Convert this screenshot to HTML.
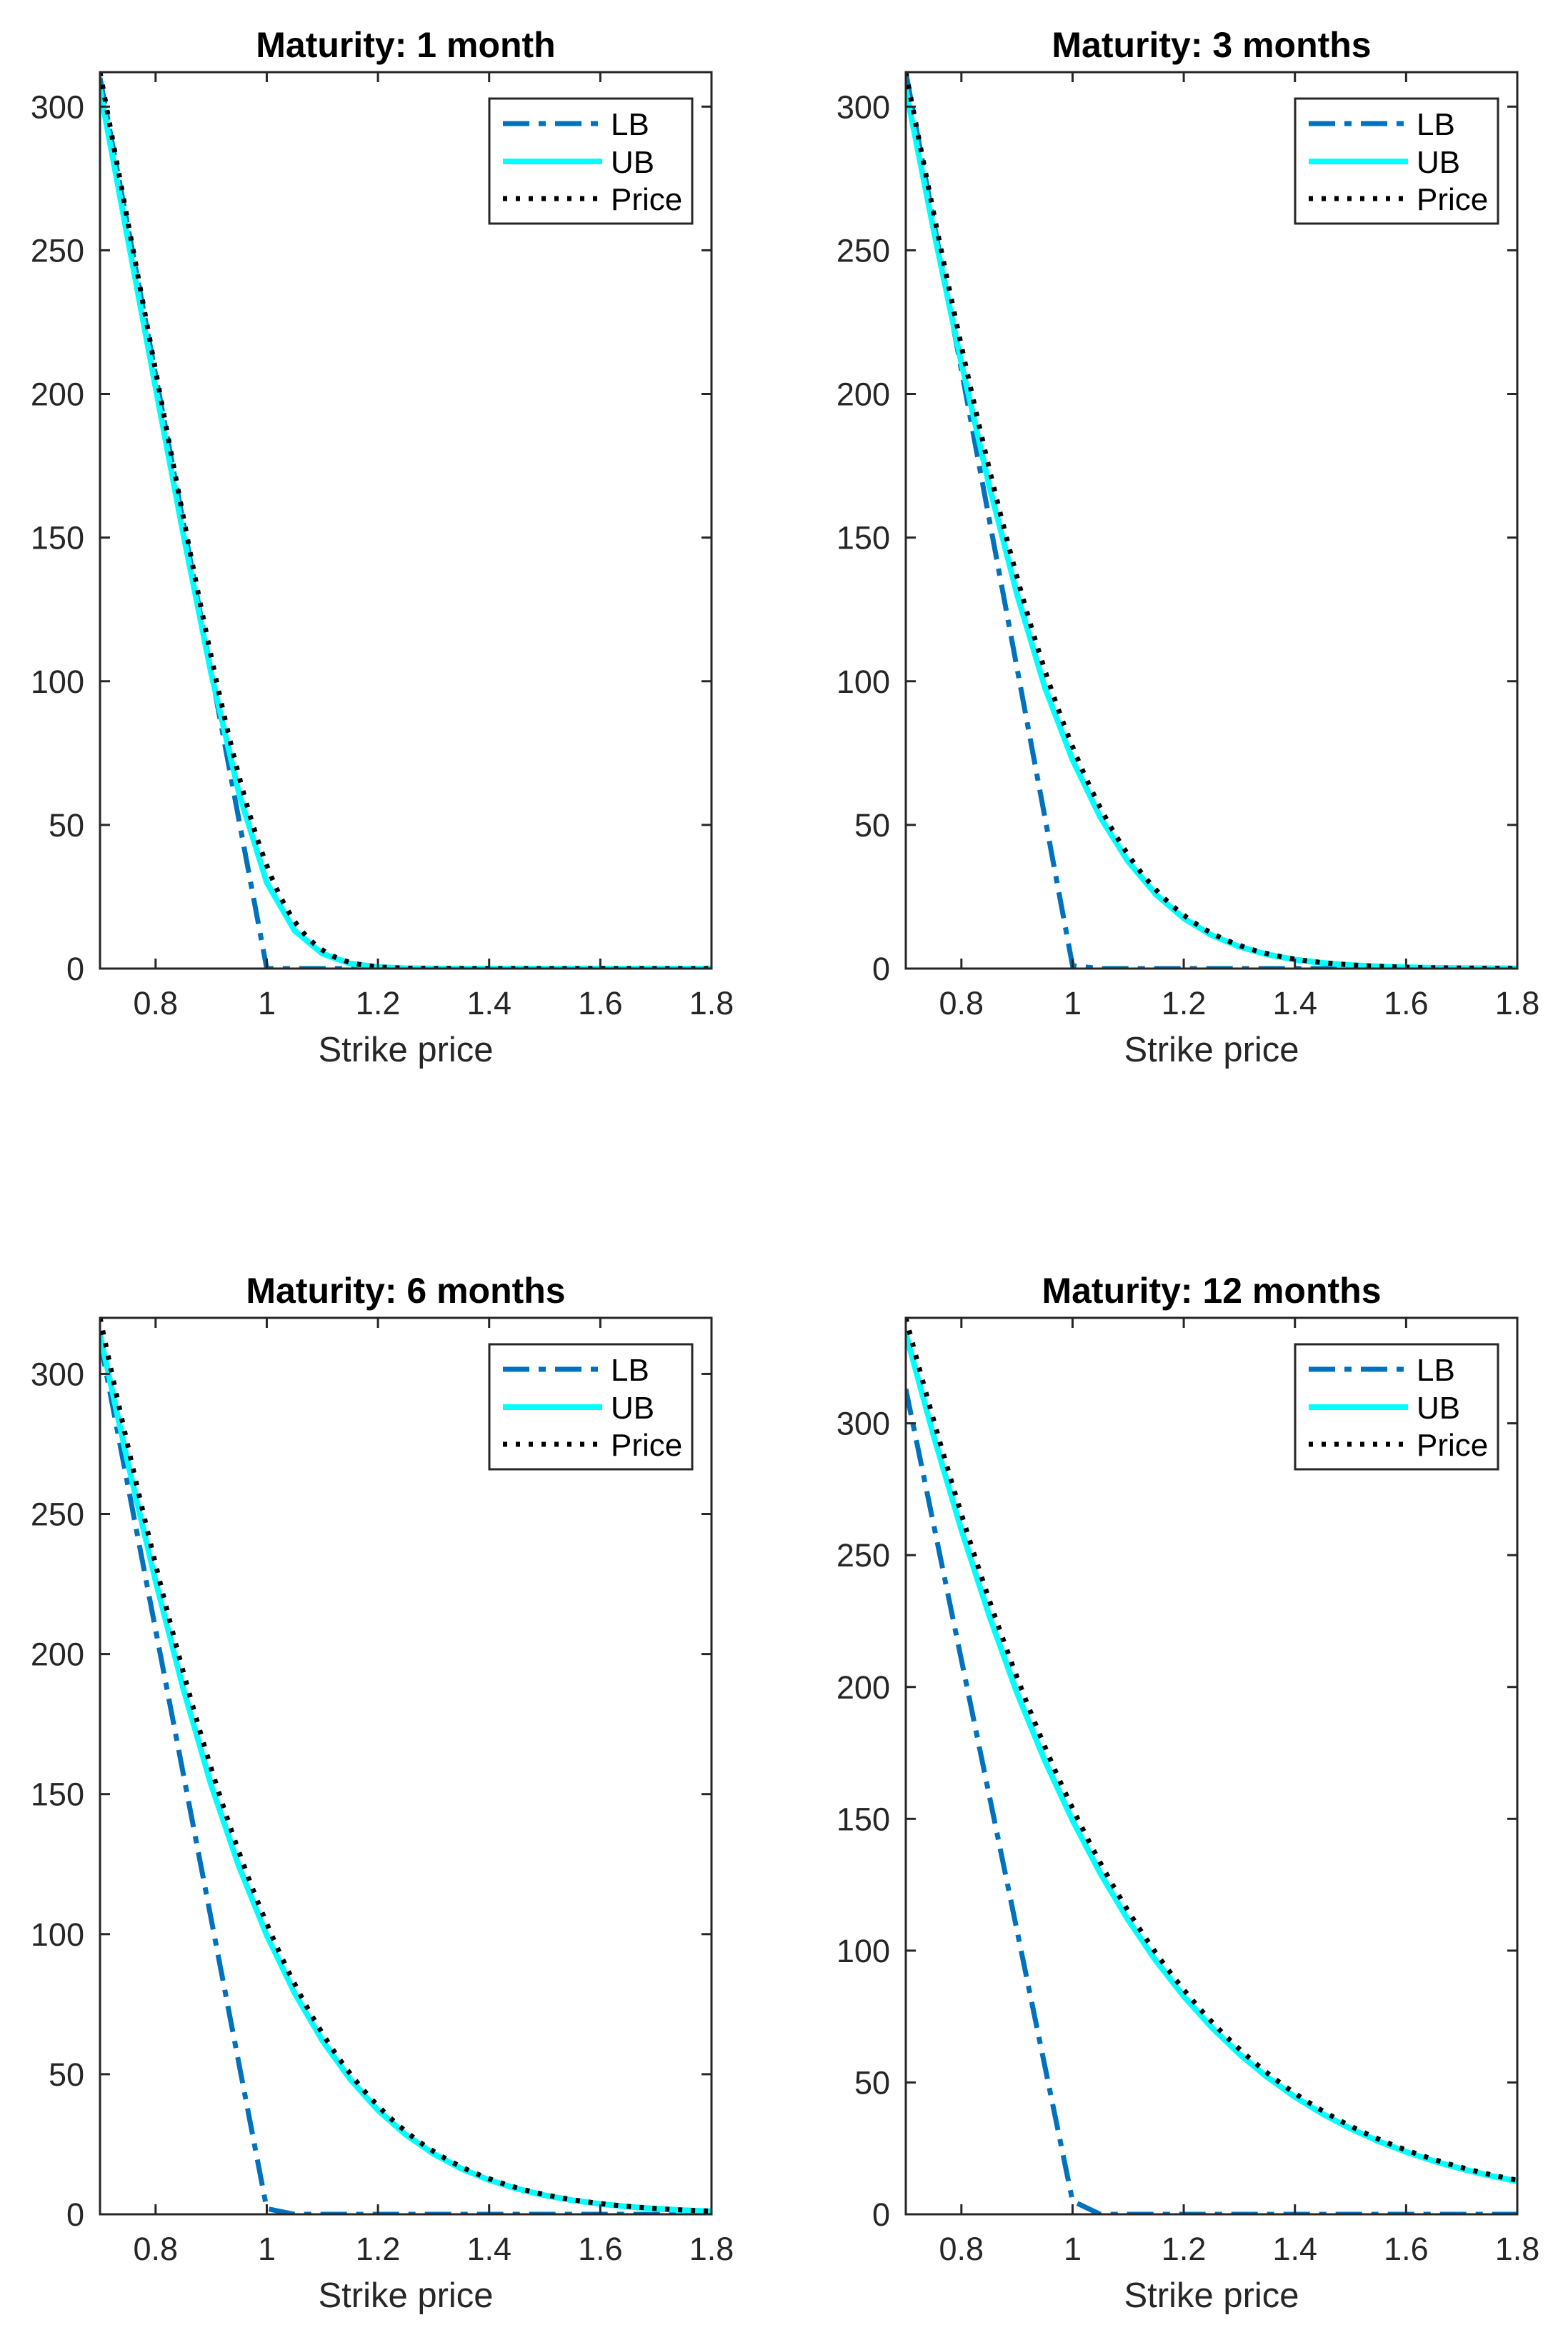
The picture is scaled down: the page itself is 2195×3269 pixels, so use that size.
<!DOCTYPE html>
<html><head><meta charset="utf-8"><style>
html,body{margin:0;padding:0;background:#fff}
svg{display:block}
text{font-family:"Liberation Sans",Arial,sans-serif;fill:#262626}
</style></head><body>
<svg id="s" width="2195" height="3269" viewBox="0 0 2195 3269" xmlns="http://www.w3.org/2000/svg"></svg>
<script>
const NS="http://www.w3.org/2000/svg";
const svg=document.getElementById('s');
function el(t,a,txt){const e=document.createElementNS(NS,t);for(const k in a)e.setAttribute(k,a[k]);if(txt!==undefined)e.textContent=txt;svg.appendChild(e);return e;}
function ncdf(x){const t=1/(1+0.2316419*Math.abs(x));const d=0.3989423*Math.exp(-x*x/2);let p=d*t*(0.3193815+t*(-0.3565638+t*(1.781478+t*(-1.821256+t*1.330274))));return x>0?1-p:p;}
function bs(K,s,T){const v=s*Math.sqrt(T);const d1=(Math.log(1/K)+v*v/2)/v;return ncdf(d1)-K*ncdf(d1-v);}
const panels=[
 {x0:140,y0:101,title:"Maturity: 1 month",ymax:312,s:0.30,T:1/12,L0:310,e:0,ubf:0.2},
 {x0:1268,y0:101,title:"Maturity: 3 months",ymax:312,s:0.375,T:0.25,L0:312,e:1,ubf:0.06},
 {x0:140,y0:1845,title:"Maturity: 6 months",ymax:320,s:0.354,T:0.5,L0:312,e:2,ubf:0.04},
 {x0:1268,y0:1845,title:"Maturity: 12 months",ymax:340,s:0.375,T:1,L0:313,e:5,ubf:0.03}];
const W=856,H=1255;
panels.forEach(p=>{
 const X=k=>p.x0+(k-0.7)/1.1*W, Y=v=>p.y0+H-v/p.ymax*H;
 const sc=p.ymax/bs(0.7,p.s,p.T);
 const price=k=>bs(k,p.s,p.T)*sc;
 const cp='c'+p.x0+'_'+p.y0;
 const d=el('defs',{});const c=document.createElementNS(NS,'clipPath');c.setAttribute('id',cp);const r=document.createElementNS(NS,'rect');
 r.setAttribute('x',p.x0);r.setAttribute('y',p.y0-4);r.setAttribute('width',W+4);r.setAttribute('height',H+4);c.appendChild(r);d.appendChild(c);
 let pts=[[0.7,p.L0],[1.0,p.e],[1.05,0],[1.8,0]];
 el('polyline',{points:pts.map(q=>X(q[0])+','+Y(q[1])).join(' '),fill:'none',stroke:'#0072BD','stroke-width':7,'stroke-dasharray':'37 13 10 13','clip-path':`url(#${cp})`});
 pts=[];for(let i=0;i<=22;i++){const k=0.7+i*0.05;let v=price(k);v=v-Math.min(v*p.ubf,6);pts.push(X(k)+','+Y(Math.max(v,0)));}
 el('polyline',{points:pts.join(' '),fill:'none',stroke:'#00FFFF','stroke-width':8,'clip-path':`url(#${cp})`});
 pts=[];for(let i=0;i<=220;i++){const k=0.7+i*0.005;pts.push(X(k)+','+Y(price(k)));}
 el('polyline',{points:pts.join(' '),fill:'none',stroke:'#000','stroke-width':7,'stroke-dasharray':'6 12','clip-path':`url(#${cp})`});
 el('rect',{x:p.x0,y:p.y0,width:W,height:H,fill:'none',stroke:'#262626','stroke-width':3});
 for(let k=0.8;k<1.81;k+=0.2){const x=X(k);
  el('line',{x1:x,y1:p.y0+H,x2:x,y2:p.y0+H-14,stroke:'#262626','stroke-width':3});
  el('line',{x1:x,y1:p.y0,x2:x,y2:p.y0+14,stroke:'#262626','stroke-width':3});
  const lab=(Math.abs(k-1)<1e-6)?'1':k.toFixed(1);
  el('text',{x:x,y:p.y0+H+64,'font-size':45,'text-anchor':'middle'},lab);}
 for(let v=0;v<=p.ymax;v+=50){const y=Y(v);
  el('line',{x1:p.x0,y1:y,x2:p.x0+14,y2:y,stroke:'#262626','stroke-width':3});
  el('line',{x1:p.x0+W,y1:y,x2:p.x0+W-14,y2:y,stroke:'#262626','stroke-width':3});
  el('text',{x:p.x0-22,y:y+16,'font-size':45,'text-anchor':'end'},String(v));}
 el('text',{x:p.x0+W/2,y:p.y0+H+130,'font-size':49,'text-anchor':'middle'},'Strike price');
 el('text',{x:p.x0+W/2,y:p.y0-21,'font-size':50,'font-weight':'bold','text-anchor':'middle',style:'fill:#000'},p.title);
 const lx=p.x0+545,ly=p.y0+37;
 el('rect',{x:lx,y:ly,width:284,height:175,fill:'#fff',stroke:'#262626','stroke-width':3});
 el('line',{x1:lx+19,y1:ly+35,x2:lx+158,y2:ly+35,stroke:'#0072BD','stroke-width':7,'stroke-dasharray':'37 13 10 13'});
 el('line',{x1:lx+19,y1:ly+88,x2:lx+158,y2:ly+88,stroke:'#00FFFF','stroke-width':8});
 el('line',{x1:lx+19,y1:ly+140,x2:lx+158,y2:ly+140,stroke:'#000','stroke-width':7,'stroke-dasharray':'6 12'});
 [['LB',35],['UB',88],['Price',140]].forEach(a=>el('text',{x:lx+170,y:ly+a[1]+16,'font-size':44,style:'fill:#000'},a[0]));
});
</script>
</body></html>
